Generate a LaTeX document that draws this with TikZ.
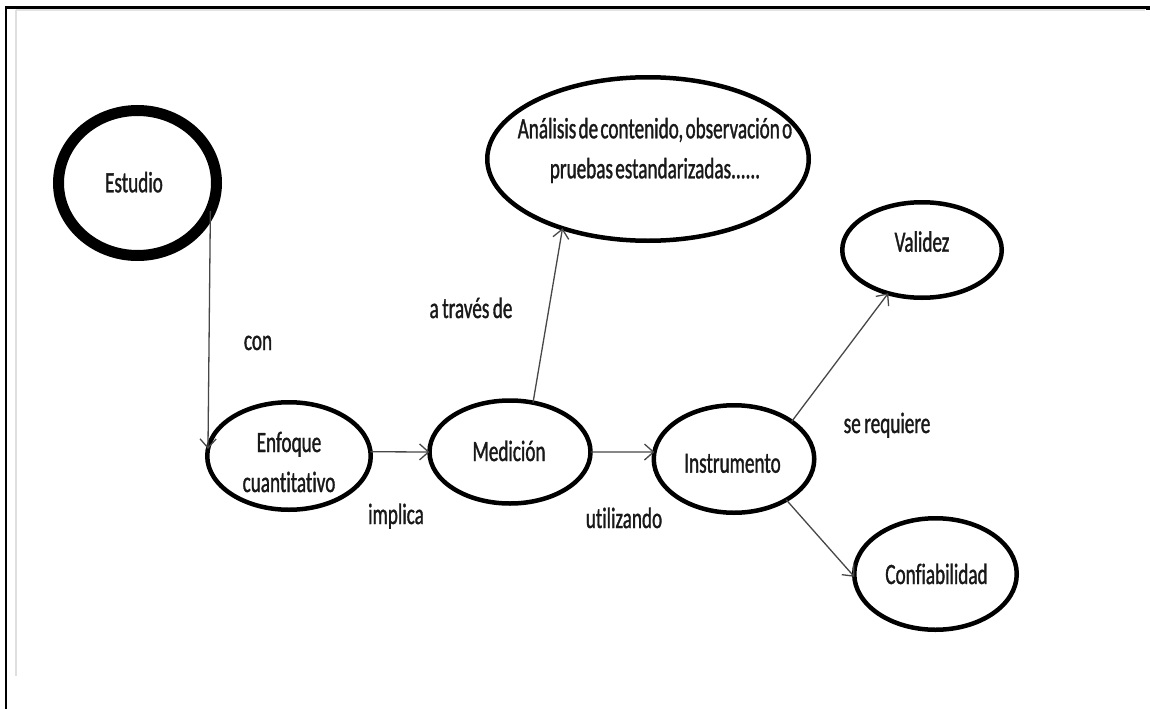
\documentclass[tikz,border=0pt]{standalone}
\usepackage{fontspec}
\setmainfont{Carlito}[FakeStretch=0.65,WordSpace=0.8,Ligatures=NoCommon,FakeBold=1.1]
\usetikzlibrary{shapes.geometric,arrows.meta}
\begin{document}
\begin{tikzpicture}[x=1pt,y=-1pt,
  bub/.style={ellipse,draw=black,line width=4.5pt,inner sep=0pt,outer sep=0pt},
  txt/.style={anchor=base,inner sep=0pt,outer sep=0pt,
    font=\fontsize{29.5}{40}\selectfont,text=black!90},
  link/.style={draw=black!72,line width=1.3pt,
    -{Straight Barb[length=9pt,width=16pt]}}]

% page and frame
\useasboundingbox (0,0) rectangle (1150,709);
\fill[white] (0,0) rectangle (1150,709);
\draw[gray!22,line width=2.6pt] (16,10) -- (1145,10);
\draw[gray!25,line width=1.5pt] (15.8,10) -- (15.8,676);
\draw[black,line width=2.4pt] (6,709) -- (6,7.5) -- (1147,7.5);
\fill[black] (1146,6.3) rectangle (1150,9.6);

% concepts
\node[bub,line width=11pt,minimum width=158pt,minimum height=145pt] (est) at (137.5,183) {};
\node[bub,minimum width=163.5pt,minimum height=107.5pt] (enf) at (289,456) {};
\node[bub,minimum width=161pt,minimum height=103pt] (med) at (510,452) {};
\node[bub,minimum width=160.5pt,minimum height=107.5pt] (inst) at (734,459) {};
\node[bub,minimum width=321.5pt,minimum height=163.5pt] (ana) at (648,159) {};
\node[bub,minimum width=159.5pt,minimum height=95.5pt] (val) at (922,250) {};
\node[bub,minimum width=162.5pt,minimum height=111.5pt] (conf) at (935.5,574) {};

% concept texts
\node[txt] (est-t) at (134,192.3) {Estudio};
\node[txt] (enf-t) at (289,452) {\begin{tabular}[t]{@{}c@{}}Enfoque\\cuantitativo\end{tabular}};
\node[txt] (med-t) at (509,461) {Medición};
\node[txt] (inst-t) at (732.5,472.7) {Instrumento};
\node[txt] (ana-t) at (655,138.3) {\spaceskip=2.3pt\begin{tabular}[t]{@{}c@{}}Análisis de contenido, observación o\\pruebas estandarizadas......\end{tabular}};
\node[txt] (val-t) at (922,251.7) {Validez};
\node[txt] (conf-t) at (936.5,584) {Confiabilidad};

% links
\draw[link] (est.-21) -- (enf.175);
\draw[link] (enf.3) -- (med.180);
\draw[link] (med.0) -- (inst.175);
\draw[link] (med.65) -- (ana.219);
\draw[link] (inst.33) -- (val.232);
\draw[link] (inst.-38) -- (conf.182);

% link labels
\node[txt] (l-con) at (258,350) {con};
\node[txt] (l-impl) at (396,524) {implica};
\node[txt] (l-trav) at (471,318) {a través de};
\node[txt] (l-util) at (624,528) {utilizando};
\node[txt] (l-req) at (887,433) {se requiere};
\end{tikzpicture}
\end{document}
